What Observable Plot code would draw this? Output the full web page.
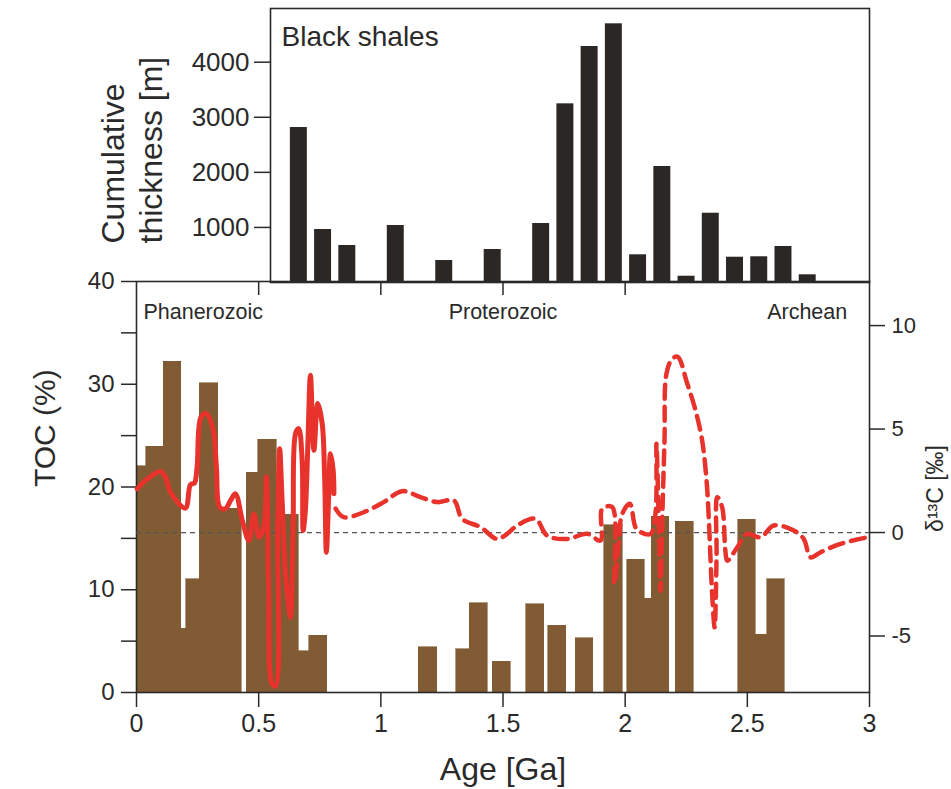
<!DOCTYPE html>
<html><head><meta charset="utf-8">
<script src="https://cdn.jsdelivr.net/npm/d3@7"></script>
<script src="https://cdn.jsdelivr.net/npm/@observablehq/plot@0.6"></script>
<style>
html,body{margin:0;padding:0;background:#fff;}
#chart{position:relative;width:951px;height:789px;}
#chart svg{position:absolute;left:0;top:0;}
</style></head><body><div id="chart"></div>
<script>
// ---- Top panel: black shales cumulative thickness (m), 0.1 Ga bins ----
const shaleBinAge = [0.6,0.7,0.8,1.0,1.2,1.4,1.6,1.7,1.8,1.9,2.0,2.1,2.2,2.3,2.4,2.5,2.6,2.7];
const shaleThickness = [2814,962,672,1035,399,599,1071,3244,4285,4697,503,2106,114,1258,459,467,654,140];
const shaleTicks = [1000,2000,3000,4000];

// ---- Bottom panel: TOC (%) histogram ----
const tocAgeStart = [0,0.04,0.112,0.184,0.203,0.259,0.334,0.451,0.499,0.573,0.664,0.708,1.155,1.308,1.364,1.458,1.596,1.686,1.797,1.915,2.008,2.080,2.108,2.207,2.463,2.535,2.581];
const tocAgeEnd   = [0.04,0.112,0.184,0.203,0.259,0.334,0.430,0.499,0.573,0.664,0.708,0.780,1.231,1.364,1.437,1.531,1.669,1.759,1.870,1.990,2.080,2.108,2.180,2.281,2.535,2.581,2.653];
const tocValue    = [22.0,23.9,32.2,6.2,11.0,30.1,17.9,21.4,24.6,17.3,4.0,5.5,4.4,4.2,8.7,3.0,8.6,6.5,5.3,16.3,12.9,9.1,17.1,16.6,16.8,5.6,11.0];
const tocTicks = [0,5,10,15,20,25,30,35,40];
const ageTicks = [0,0.5,1,1.5,2,2.5,3];
const ageTopTicks = [0.5,1,1.5,2];

// ---- δ13C curve (‰): solid (Phanerozoic/Neoproterozoic) and dashed (older) ----
const d13cSolidAge = [0.003,0.037,0.098,0.118,0.139,0.200,0.221,0.237,0.248,0.264,0.286,0.314,0.327,0.341,0.364,0.385,0.405,0.433,0.460,0.480,0.501,0.521,0.532,0.541,0.555,0.569,0.578,0.586,0.596,0.610,0.630,0.641,0.651,0.664,0.678,0.682,0.691,0.701,0.712,0.726,0.742,0.760,0.770,0.777,0.787,0.794,0.805,0.808];
const d13cSolidVal = [2.11,2.52,2.95,2.68,1.95,1.18,2.32,2.39,3.16,5.58,5.74,4.94,3.16,1.22,1.15,1.55,1.87,0.58,-0.39,0.90,-0.23,0.26,2.68,-2.97,-7.32,-7.41,0.26,4.05,1.55,-2.00,-4.10,0.26,4.78,5.02,3.48,0.10,1.06,4.13,7.60,3.97,6.23,5.26,2.68,-0.95,1.87,3.81,3.00,1.87];
const d13cDashAge = [0.815,0.848,0.930,1.012,1.087,1.162,1.231,1.299,1.333,1.408,1.476,1.517,1.558,1.633,1.681,1.763,1.845,1.899,1.906,1.947,1.956,1.974,1.988,2.019,2.042,2.063,2.104,2.124,2.128,2.138,2.145,2.152,2.161,2.169,2.193,2.215,2.254,2.288,2.315,2.333,2.342,2.349,2.356,2.366,2.374,2.377,2.397,2.410,2.418,2.459,2.499,2.554,2.608,2.690,2.731,2.759,2.800,2.881,2.991];
const d13cDashVal = [1.15,0.74,0.98,1.47,2.00,1.71,1.47,1.55,0.66,0.26,-0.31,-0.06,0.34,0.66,-0.15,-0.31,-0.06,-0.39,1.15,1.23,-2.48,-0.39,0.90,1.39,0.26,0.02,-0.07,0.90,4.29,0.26,-2.81,0.74,4.45,7.68,8.40,8.49,7.20,5.90,4.45,2.52,0.74,-1.20,-2.97,-4.58,-1.20,1.71,1.22,-0.87,-1.36,-0.71,-0.06,-0.23,0.34,0.10,-0.31,-1.20,-0.95,-0.55,-0.23];
const d13cTicks = [-5,0,5,10];

const eraNames = ["Phanerozoic","Proterozoic","Archean"];
const eraLabelAge = [0.273,1.5,2.745];

// ---- tables ----
const shales = shaleBinAge.map((a,i)=>({age:a, thickness:shaleThickness[i]}));
const toc = tocAgeStart.map((a,i)=>({x1:a, x2:tocAgeEnd[i], toc:tocValue[i]}));
const solid = d13cSolidAge.map((a,i)=>({age:a, d:d13cSolidVal[i]}));
const dashed = d13cDashAge.map((a,i)=>({age:a, d:d13cDashVal[i]}));
const eras = eraNames.map((n,i)=>({name:n, age:eraLabelAge[i]}));

const W = 951, H = 789;
const font = "'Liberation Sans', Arial, sans-serif";
const ink = "#2a2a2a";
const brown = "#805b33";
const baseStyle = {fontFamily: font, background: "transparent", color: ink, overflow: "visible"};
const binWidth = 0.07;

// bottom panel: TOC
const tocPlot = Plot.plot({
  width: W, height: H,
  marginLeft: 136, marginRight: 82, marginTop: 281, marginBottom: 97,
  style: baseStyle,
  x: {domain: [0,3], axis: null},
  y: {domain: [0,40], axis: null},
  marks: [
    Plot.rectY(toc, {x1: "x1", x2: "x2", y: "toc", fill: brown, stroke: brown, strokeWidth: 0.6, shapeRendering: "crispEdges"}),
    Plot.frame({stroke: ink, strokeWidth: 1.6}),
    Plot.axisY(tocTicks, {anchor: "left", tickSize: 15, tickPadding: 7, fontSize: 24,
      tickFormat: d => d % 10 === 0 ? String(d) : "", strokeWidth: 1.5, label: null}),
    Plot.axisX(ageTicks, {anchor: "bottom", tickSize: 15, tickPadding: 7, fontSize: 25,
      tickFormat: d => String(d), strokeWidth: 1.5, label: null}),
    Plot.ruleX(ageTopTicks, {x: d => d, insetBottom: 411 - 14, stroke: ink, strokeWidth: 1.5}),
    Plot.text(["TOC (%)"], {frameAnchor: "left", dx: -91, rotate: -90, fontSize: 30, fill: ink, lineAnchor: "middle"}),
    Plot.text(["Age [Ga]"], {frameAnchor: "bottom", dy: 77, fontSize: 32, fill: ink, lineAnchor: "middle"}),
    Plot.text(eras, {x: "age", text: "name", frameAnchor: "top", dy: 31, fontSize: 21.5, fill: ink, lineAnchor: "middle"})
  ]
});

// bottom panel overlay: δ13C
const d13cPlot = Plot.plot({
  width: W, height: H,
  marginLeft: 136, marginRight: 82, marginTop: 281, marginBottom: 97,
  style: baseStyle,
  x: {domain: [0,3], axis: null},
  y: {domain: [-7.73, 12.13], axis: null},
  marks: [
    Plot.ruleY([0], {stroke: "#555", strokeWidth: 1.3, strokeDasharray: "5,4"}),
    Plot.line(dashed, {x: "age", y: "d", stroke: "#e8322c", strokeWidth: 4.5, strokeDasharray: "14,8", curve: "catmull-rom"}),
    Plot.line(solid, {x: "age", y: "d", stroke: "#e8322c", strokeWidth: 5, curve: "catmull-rom", strokeLinejoin: "round"}),
    Plot.axisY(d13cTicks, {anchor: "right", tickSize: 15, tickPadding: 7, fontSize: 22,
      tickFormat: d => String(d), strokeWidth: 1.5, label: null}),
    Plot.text(["δ¹³C [‰]"], {frameAnchor: "right", dx: 66, dy: -42, rotate: -90, fontSize: 23, fill: ink, lineAnchor: "middle"})
  ]
});

// top panel: black shales
const shalePlot = Plot.plot({
  width: W, height: H,
  marginLeft: 270, marginRight: 82, marginTop: 8, marginBottom: 507,
  style: baseStyle,
  x: {domain: [0.518, 2.990], axis: null},
  y: {domain: [0, 4975], axis: null},
  marks: [
    Plot.rectY(shales, {x1: "age", x2: d => d.age + binWidth, y: "thickness", fill: "#2b2724"}),
    Plot.frame({stroke: ink, strokeWidth: 1.6}),
    Plot.axisY(shaleTicks, {anchor: "left", tickSize: 16, tickPadding: 5, fontSize: 26,
      tickFormat: d => String(d), strokeWidth: 1.5, label: null}),
    Plot.text(["Black shales"], {frameAnchor: "top-left", dx: 11, dy: 29, fontSize: 28, fill: ink, lineAnchor: "middle"}),
    Plot.text(["Cumulative\nthickness [m]"], {frameAnchor: "bottom-left", dx: -140, dy: -39, rotate: -90,
      textAnchor: "start", fontSize: 32, lineHeight: 1.2, fill: ink, lineAnchor: "middle"})
  ]
});

const chart = document.getElementById("chart");
chart.append(tocPlot, d13cPlot, shalePlot);
</script></body></html>
